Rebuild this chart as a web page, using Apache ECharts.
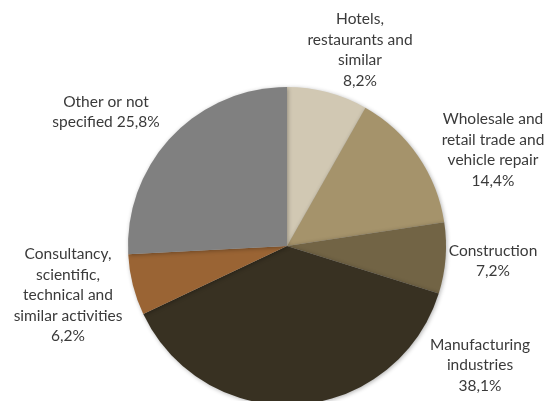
<!DOCTYPE html>
<html>
<head>
<meta charset="utf-8">
<script src="https://cdn.jsdelivr.net/npm/echarts@6/dist/echarts.min.js"></script>
<style>
  html, body { margin: 0; padding: 0; background: #fff; }
  #chart { width: 552px; height: 401px; }
</style>
</head>
<body>
<div id="chart"></div>
<script>
// sectors, clockwise from 12 o'clock
const categories = [
  "Hotels,\nrestaurants and\nsimilar",
  "Wholesale and\nretail trade and\nvehicle repair",
  "Construction",
  "Manufacturing\nindustries",
  "Consultancy,\nscientific,\ntechnical and\nsimilar activities",
  "Other or not\nspecified"
];
const shares = [8.2, 14.4, 7.2, 38.1, 6.2, 25.8];
const colors = ["#D1C8B3", "#A5936B", "#726445", "#383122", "#9A6434", "#808080"];

// where each label block sits (centre of text)
const labelSpots = [
  [360, 50], [493, 150], [493, 261], [480, 365], [68, 295], [106, 112]
];

const chart = echarts.init(document.getElementById("chart"));

chart.setOption({
  animation: false,
  series: [
    {
      type: "pie",
      center: [287, 246],
      radius: 159,
      startAngle: 90,
      clockwise: true,
      data: categories.map((name, i) => ({
        name,
        value: shares[i],
        itemStyle: { color: colors[i] }
      })),
      itemStyle: {
        shadowBlur: 4,
        shadowColor: "rgba(0,0,0,0.3)",
        shadowOffsetX: 1,
        shadowOffsetY: 1
      },
      label: {
        show: true,
        position: "outside",
        overflow: "none",
        width: 200,
        fontFamily: "Lato",
        fontSize: 15.5,
        lineHeight: 20.5,
        color: "#3a3a3a",
        align: "center",
        formatter: (p) => {
          const pct = p.value.toFixed(1).replace(".", ",") + "%";
          return p.dataIndex === 5 ? p.name + " " + pct : p.name + "\n" + pct;
        }
      },
      labelLine: { show: false },
      labelLayout: (params) => ({
        x: labelSpots[params.dataIndex][0],
        y: labelSpots[params.dataIndex][1],
        align: "center",
        verticalAlign: "middle"
      })
    }
  ]
});
</script>
</body>
</html>
